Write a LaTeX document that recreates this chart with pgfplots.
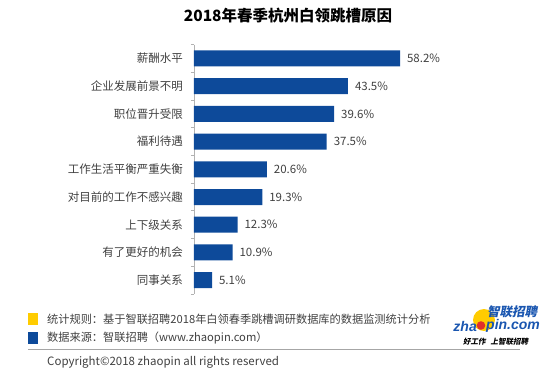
\documentclass[border=0pt]{standalone}
\usepackage{fontspec}
\usepackage{pgfplots}
\pgfplotsset{compat=1.18}
\newfontfamily\cjk{Noto Sans CJK SC}
\newfontfamily\cjkit{Noto Sans CJK SC}[FakeSlant=0.2]
\newfontfamily\logofont{Liberation Sans}
\definecolor{barblue}{HTML}{0D4A9A}
\definecolor{labelgray}{HTML}{404040}
\definecolor{logoblue}{HTML}{1A56B0}
\definecolor{logoyellow}{HTML}{FFCC00}
\definecolor{logored}{HTML}{E0302A}
\begin{document}
\begin{tikzpicture}
\path[use as bounding box] (0pt,0pt) rectangle (550pt,-372pt);
% title
\node[font=\cjk\bfseries\fontsize{15.5}{18}\selectfont, text=black] at (288pt,-16pt) {2018年春季杭州白领跳槽原因};
\begin{axis}[
  at={(194pt,-44.6pt)}, anchor=north west,
  scale only axis, width=212.4pt, height=249.4pt,
  xbar, bar width=16pt, bar shift=0pt,
  xmin=0, xmax=60, ymin=-0.5, ymax=8.5, y dir=reverse,
  axis x line=none, axis y line=left,
  y axis line style={-, gray!60, line width=0.8pt},
  clip=false,
  xtick=\empty,
  ytick={-0.5,0.5,...,8.5},
  yticklabels={},
  major tick length=3pt,
  tick align=outside,
  major tick style={gray!60, line width=0.8pt},
  extra y ticks={0,...,8},
  extra y tick labels={薪酬水平,企业发展前景不明,职位晋升受限,福利待遇,工作生活平衡严重失衡,对目前的工作不感兴趣,上下级关系,有了更好的机会,同事关系},
  extra y tick style={major tick length=0pt, tick style={draw=none},
     yticklabel style={text=labelgray, font=\cjk\fontsize{11.5}{13}\selectfont, xshift=-7.5pt}},
  point meta=explicit symbolic,
  nodes near coords={\pgfplotspointmeta\%},
  every node near coord/.append style={anchor=west, xshift=3.5pt, text=labelgray, font=\cjk\fontsize{11.5}{13}\selectfont},
]
\addplot[fill=barblue, draw=none] coordinates {
 (58.2,0) [58.2]
 (43.5,1) [43.5]
 (39.6,2) [39.6]
 (37.5,3) [37.5]
 (20.6,4) [20.6]
 (19.3,5) [19.3]
 (12.3,6) [12.3]
 (10.9,7) [10.9]
 (5.1,8) [5.1]
};
\end{axis}
% footer
\fill[logoyellow] (28pt,-313pt) rectangle (37.5pt,-324.5pt);
\node[anchor=west, inner sep=0pt, text=labelgray, font=\cjk\fontsize{11.2}{13}\selectfont] at (47pt,-319pt) {统计规则：基于智联招聘2018年白领春季跳槽调研数据库的数据监测统计分析};
\fill[barblue] (28pt,-332pt) rectangle (37.5pt,-343.5pt);
\node[anchor=west, inner sep=0pt, text=labelgray, font=\cjk\fontsize{11.2}{13}\selectfont] at (47pt,-338pt) {数据来源：智联招聘（www.zhaopin.com）};
\draw[gray!70, line width=1pt] (28pt,-349.5pt) -- (520pt,-349.5pt);
\node[anchor=west, inner sep=0pt, text=labelgray, font=\cjk\fontsize{11.5}{13}\selectfont] at (47pt,-362pt) {Copyright©2018 zhaopin all rights reserved};
% logo
\fill[logoyellow] (484pt,-320pt) circle (11pt);
\node[anchor=west, inner sep=0pt, text=logoblue, font=\cjkit\bfseries\fontsize{12.5}{14}\selectfont] at (487pt,-312pt) {智联招聘};
\node[anchor=east, inner sep=0pt, text=logoblue, font=\logofont\bfseries\itshape\fontsize{14}{16}\selectfont] at (477pt,-326pt) {zha};
\fill[logored] (481pt,-325.5pt) circle (4.3pt);
\node[anchor=west, inner sep=0pt, text=logoblue, font=\logofont\bfseries\itshape\fontsize{14}{16}\selectfont] at (486pt,-326pt) {pin.com};
\node[anchor=west, inner sep=0pt, text=black, font=\cjkit\bfseries\fontsize{7.5}{9}\selectfont] at (463pt,-342pt) {好工作\hspace{5pt}上智联招聘};
\end{tikzpicture}
\end{document}
